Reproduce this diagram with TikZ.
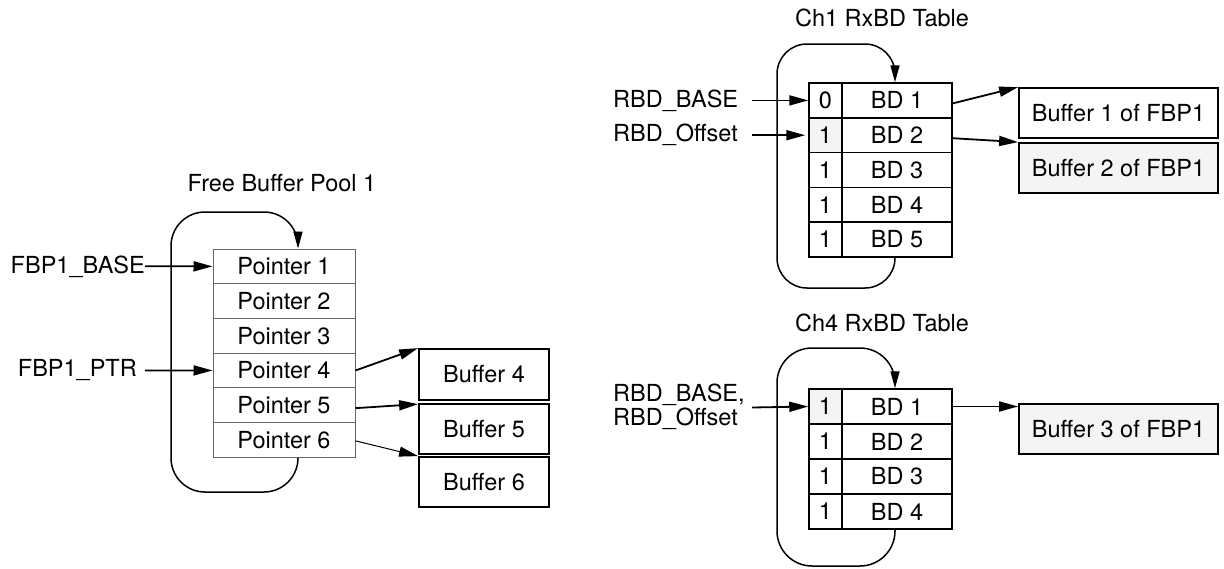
\documentclass[tikz,border=0pt]{standalone}
\usepackage{fontspec}
\setmainfont{TeX Gyre Heros}
\usetikzlibrary{arrows.meta}
\definecolor{lgray}{HTML}{F4F4F4}
\definecolor{tgray}{HTML}{666666}
\begin{document}
\begin{tikzpicture}[x=1pt,y=-1pt,
  every node/.style={font=\fontsize{23.5}{25}\selectfont},
  ptrcell/.style={draw=tgray, line width=1pt, minimum width=142pt, minimum height=34.7pt, inner sep=0pt},
  flagcell/.style={draw=black, line width=1.5pt, minimum width=33pt, minimum height=34.8pt, inner sep=0pt},
  bdcell/.style={draw=black, line width=1.5pt, minimum width=110pt, minimum height=34.8pt, inner sep=0pt},
  fillno/.style={},
  fillyes/.style={fill=lgray},
  bufbox/.style={draw=black, line width=1.8pt, minimum height=50pt, inner sep=0pt},
  lbl/.style={inner sep=0pt},
  arr/.style={line width=1.8pt, -{Triangle[length=19pt,width=10pt]}},
  thinarr/.style={line width=1pt, -{Triangle[length=19pt,width=10pt]}},
  ring/.style={line width=1.5pt, -{Triangle[length=17pt,width=9pt]}}
]
\useasboundingbox (0,0) rectangle (1224,568);

% ---------- Free Buffer Pool 1 ----------
\node[lbl] (tfbp) at (282,183) {Free Buffer Pool 1};
\foreach \i in {1,...,6}
  \node[ptrcell] (p\i) at (284,{249+34.7*(\i-0.5)}) {Pointer \i};

\node[lbl, anchor=east] (fbase) at (145,266.3) {FBP1\_BASE};
\node[lbl, anchor=east] (fptr) at (137,370.4) {FBP1\_PTR};

\node[bufbox, minimum width=130pt, minimum height=51pt] (bf4) at (484,374.5) {Buffer 4};
\node[bufbox, minimum width=130pt] (bf5) at (484,429) {Buffer 5};
\node[bufbox, minimum width=130pt] (bf6) at (484,482) {Buffer 6};

\draw[ring, rounded corners=34pt] ([xshift=14pt]p6.south) -- (298,492) -| (171,212) -| ([xshift=14pt]p1.north);

\draw[arr] (fbase.east) -- (p1.west);
\draw[arr] ([xshift=8pt]fptr.east) -- (p4.west);
\draw[arr] (p4.east) -- (bf4.north west);
\draw[arr] ([yshift=-3pt]p5.east) -- ([yshift=-1pt]bf5.north west);
\draw[thinarr] ([yshift=-1pt]p6.east) -- (bf6.north west);

% ---------- Ch1 RxBD Table ----------
\node[lbl] (tch1) at (882,18) {Ch1 RxBD Table};
\foreach \i/\v/\s in {1/0/fillno,2/1/fillyes,3/1/fillno,4/1/fillno,5/1/fillno}{
  \node[flagcell,\s] (f\i) at (825.5,{83+34.8*(\i-0.5)}) {\v};
  \node[bdcell] (b\i) at (897,{83+34.8*(\i-0.5)}) {BD \i};
}
\node[lbl, anchor=west] (rbase) at (613,100.4) {RBD\_BASE};
\node[lbl, anchor=west] (roff) at (613,135.2) {RBD\_Offset};
\coordinate (ra) at (752,100.4);
\coordinate (rb) at (752,135.2);

\node[bufbox, minimum width=199pt] (bfa) at (1118.5,113) {Buffer 1 of FBP1};
\node[bufbox, minimum width=199pt, fill=lgray] (bfb) at (1118.5,168) {Buffer 2 of FBP1};

\draw[ring, rounded corners=30pt] ([xshift=-2pt]b5.south) -- (895,288) -| (777,44) -| ([xshift=-2pt]b1.north);

\draw[arr] (ra) -- (f1.west);
\draw[arr] (rb) -- ([xshift=-3pt]f2.west);
\draw[arr] ([yshift=-3pt]b1.east) -- (bfa.north west);
\draw[arr] ([yshift=-3pt]b2.east) -- (bfb.north west);

% ---------- Ch4 RxBD Table ----------
\node[lbl] (tch4) at (882,323) {Ch4 RxBD Table};
\foreach \i/\s in {1/fillyes,2/fillno,3/fillno,4/fillno}{
  \node[flagcell,\s, minimum height=35pt] (g\i) at (825.5,{389+35*(\i-0.5)}) {1};
  \node[bdcell, minimum height=35pt] (c\i) at (897,{389+35*(\i-0.5)}) {BD \i};
}
\node[lbl, anchor=west, align=left, font=\fontsize{23.5}{23.5}\selectfont] (rboth) at (613,407) {RBD\_BASE,\\RBD\_Offset};
\coordinate (rc) at (752,407.5);

\node[bufbox, minimum width=199pt, fill=lgray] (bfc) at (1118.5,429) {Buffer 3 of FBP1};

\draw[ring, rounded corners=35pt] ([xshift=-2pt]c4.south) -- (895,566) -| (777,348) -| ([xshift=-2pt]c1.north);

\draw[arr] (rc) -- (g1.west);
\draw[arr] (c1.east) -- (c1.east -| bfc.west);
\end{tikzpicture}
\end{document}
